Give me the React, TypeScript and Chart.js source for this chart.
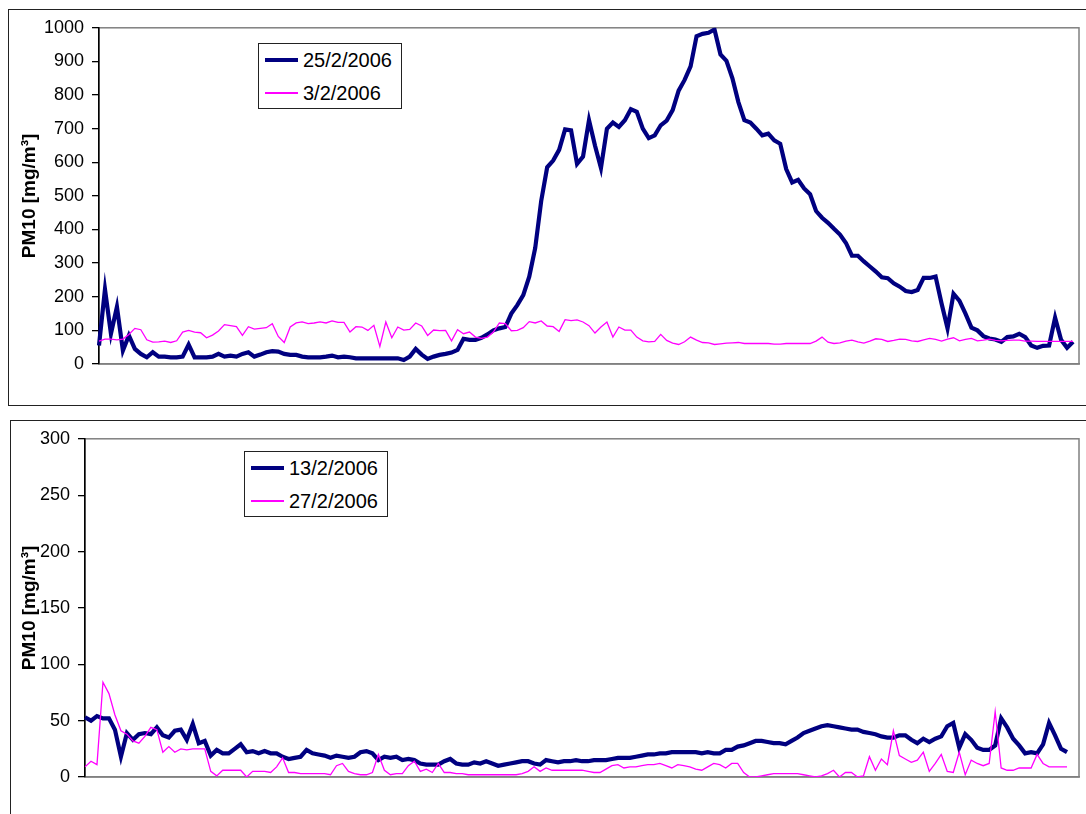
import React, { useEffect, useRef } from "react";
import { Chart, registerables } from "chart.js";

Chart.register(...registerables);

const FONT = "'Liberation Sans', Arial, sans-serif";
const NAVY = "#000080";
const PINK = "#FF00FF";

// Upper chart
const topDates = ["25/2/2006", "3/2/2006"];
const topTicks = [0, 100, 200, 300, 400, 500, 600, 700, 800, 900, 1000];
const feb25 = [
  55, 222, 90, 170, 40, 85, 45, 30, 20, 35,
  22, 22, 20, 20, 22, 58, 20, 20, 20, 22,
  30, 22, 25, 22, 30, 35, 22, 28, 35, 38,
  37, 30, 27, 27, 22, 20, 20, 20, 22, 25,
  20, 22, 20, 17, 17, 17, 17, 17, 17, 17,
  17, 12, 22, 45, 28, 15, 22, 27, 30, 34,
  42, 75, 72, 72, 78, 88, 100, 106, 110, 150,
  175, 205, 260, 345, 485, 585, 605, 637, 698, 695,
  595, 617, 725, 650, 583, 700, 718, 705, 725, 758,
  750, 700, 672, 680, 710, 724, 755, 813, 845, 885,
  975, 982, 985, 995, 921, 902, 850, 779, 725, 718,
  700, 680, 685, 665, 655, 580, 540, 548, 522, 505,
  455, 435, 420, 402, 385, 360, 322, 322, 305, 290,
  275, 258, 255, 240, 230, 217, 214, 220, 256, 256,
  260, 180, 106, 209, 188, 150, 108, 100, 83, 76,
  73, 66, 80, 82, 90, 80, 55, 48, 54, 55,
  138, 72, 48, 66,
];
const feb3 = [
  68, 74, 74, 72, 74, 88, 106, 102, 72, 65,
  66, 68, 64, 69, 95, 100, 95, 93, 78, 86,
  98, 117, 114, 111, 85, 111, 104, 106, 108, 120,
  82, 64, 110, 122, 125, 120, 122, 125, 122, 128,
  124, 124, 95, 111, 110, 100, 115, 52, 125, 78,
  110, 101, 103, 122, 113, 85, 101, 99, 100, 69,
  102, 90, 95, 80, 76, 80, 95, 122, 120, 99,
  100, 108, 126, 122, 128, 113, 111, 97, 132, 129,
  131, 125, 114, 92, 110, 125, 80, 110, 101, 101,
  80, 69, 66, 67, 88, 70, 62, 58, 66, 80,
  71, 64, 63, 58, 60, 62, 63, 64, 61, 61,
  61, 61, 61, 59, 59, 61, 61, 61, 61, 61,
  68, 80, 65, 61, 63, 68, 71, 66, 62, 68,
  75, 73, 67, 70, 74, 73, 69, 67, 72, 76,
  73, 68, 74, 78, 69, 73, 76, 69, 71, 74,
  70, 69, 70, 71, 71, 68, 68, 67, 67, 67,
  67, 67, 67, 67,
];

// Lower chart
const bottomDates = ["13/2/2006", "27/2/2006"];
const bottomTicks = [0, 50, 100, 150, 200, 250, 300];
const feb13 = [
  53, 50, 54, 52, 52, 42, 18, 39, 33, 38,
  39, 38, 44, 37, 35, 41, 42, 33, 47, 30,
  32, 19, 24, 21, 21, 25, 29, 22, 23, 21,
  23, 21, 21, 18, 16, 17, 18, 24, 21, 20,
  19, 17, 19, 18, 17, 18, 22, 23, 21, 15,
  18, 17, 18, 15, 16, 15, 12, 11, 11, 11,
  14, 16, 12, 11, 11, 13, 12, 14, 12, 10,
  11, 12, 13, 14, 14, 12, 11, 15, 14, 13,
  14, 14, 15, 14, 14, 15, 15, 15, 16, 17,
  17, 17, 18, 19, 20, 20, 21, 21, 22, 22,
  22, 22, 22, 21, 22, 21, 21, 24, 24, 27,
  28, 30, 32, 32, 31, 30, 30, 29, 32, 35,
  39, 41, 43, 45, 46, 45, 44, 43, 42, 42,
  40, 39, 38, 36, 35, 35, 37, 37, 33, 30,
  34, 31, 34, 36, 45, 48, 26, 38, 33, 26,
  24, 24, 28, 52, 44, 34, 28, 21, 22, 21,
  29, 48, 37, 25, 22,
];
const feb27 = [
  9, 14, 11, 84, 74, 55, 41, 38, 32, 30,
  36, 44, 42, 22, 27, 22, 25, 24, 25, 25,
  25, 5, 1, 6, 6, 6, 6, 0, 5, 5,
  5, 4, 9, 17, 4, 4, 3, 3, 3, 3,
  3, 2, 10, 12, 5, 3, 2, 2, 4, 20,
  6, 2, 3, 3, 10, 14, 5, 7, 4, 12,
  4, 4, 3, 3, 2, 2, 2, 2, 2, 2,
  2, 2, 2, 3, 5, 9, 5, 8, 6, 6,
  6, 6, 6, 6, 5, 4, 4, 7, 10, 11,
  8, 9, 9, 10, 11, 11, 12, 10, 8, 11,
  10, 9, 7, 6, 9, 12, 11, 8, 12, 12,
  4, 0, 0, 1, 2, 3, 3, 3, 3, 3,
  2, 1, 0, 1, 3, 6, 0, 4, 4, 0,
  1, 18, 6, 16, 11, 41, 19, 16, 13, 15,
  22, 5, 12, 20, 5, 4, 22, 2, 15, 12,
  10, 12, 58, 8, 6, 6, 8, 8, 8, 20,
  12, 9, 9, 9, 9,
];

// grey box round the plot area, drawn before the axes so the black y axis stays on top
const plotFrame = {
  id: "plotFrame",
  beforeDraw(chart: any) {
    const { ctx, chartArea: a } = chart;
    ctx.save();
    ctx.strokeStyle = "#808080";
    ctx.lineWidth = 1.5;
    ctx.strokeRect(a.left, a.top, a.right - a.left, a.bottom - a.top);
    ctx.restore();
  },
};

interface PmChartProps {
  names: string[];
  navy: number[];
  pink: number[];
  ticks: number[];
  slots: number;
  axisWidth: number;
  padding: { left: number; top: number; right: number; bottom: number };
}

const PmChart: React.FC<PmChartProps> = ({ names, navy, pink, ticks, slots, axisWidth, padding }) => {
  const canvasRef = useRef<HTMLCanvasElement>(null);

  useEffect(() => {
    if (!canvasRef.current) return;
    const labels = Array.from({ length: slots }, (_, i) => String(i));
    const chart = new Chart(canvasRef.current, {
      type: "line",
      data: {
        labels,
        datasets: [
          { label: names[0], data: navy, borderColor: NAVY, borderWidth: 4.2, order: 1 },
          { label: names[1], data: pink, borderColor: PINK, borderWidth: 1.3, order: 0 },
        ],
      },
      options: {
        animation: false,
        responsive: true,
        maintainAspectRatio: false,
        layout: { padding },
        elements: { point: { radius: 0 }, line: { tension: 0 } },
        plugins: { legend: { display: false }, tooltip: { enabled: false } },
        scales: {
          x: {
            grid: { display: false },
            ticks: { display: false },
            border: { color: "#808080", width: 1.5 },
            afterFit: (s: any) => {
              s.height = 0;
            },
          },
          y: {
            min: ticks[0],
            max: ticks[ticks.length - 1],
            ticks: {
              stepSize: ticks[1] - ticks[0],
              color: "#000",
              font: { family: FONT, size: 18 },
              padding: 8,
              callback: (v: any) => String(v),
            },
            grid: { drawOnChartArea: false, color: "#000", tickLength: 7, lineWidth: 1.3 },
            border: { color: "#000", width: 1.5 },
            title: {
              display: true,
              text: "PM10 [mg/m³]",
              color: "#000",
              font: { family: FONT, size: 19, weight: "bold" },
              padding: { top: 0, bottom: 0 },
            },
            afterFit: (s: any) => {
              s.width = axisWidth;
            },
          },
        },
      },
      plugins: [plotFrame],
    });
    return () => chart.destroy();
  }, [names, navy, pink, ticks, slots, axisWidth, padding]);

  return <canvas ref={canvasRef} />;
};

const Legend: React.FC<{ names: string[]; left: number; top: number }> = ({ names, left, top }) => (
  <div
    style={{
      position: "absolute",
      left,
      top,
      width: 144,
      height: 66,
      border: "1px solid #222",
      boxSizing: "border-box",
      background: "#fff",
    }}
  >
    {names.map((n, i) => (
      <div
        key={n}
        style={{ position: "absolute", left: 6, top: i * 33, height: 32, display: "flex", alignItems: "center" }}
      >
        <span
          style={{
            display: "inline-block",
            width: 33,
            height: i === 0 ? 4 : 1.5,
            background: i === 0 ? NAVY : PINK,
            marginRight: 5,
          }}
        />
        <span style={{ font: `20px ${FONT}`, color: "#000", whiteSpace: "nowrap" }}>{n}</span>
      </div>
    ))}
  </div>
);

const frameStyle = (left: number, top: number, height: number): React.CSSProperties => ({
  position: "absolute",
  left,
  top,
  width: 1100,
  height,
  border: "1.5px solid #222",
  boxSizing: "border-box",
});

export default function App() {
  return (
    <div
      style={{
        position: "fixed",
        left: 0,
        top: 0,
        width: 1086,
        height: 814,
        overflow: "hidden",
        background: "#fff",
      }}
    >
      <div style={frameStyle(8, 9, 397)} />
      <div style={frameStyle(10, 420, 420)} />
      <div style={{ position: "absolute", left: 8, top: 9, width: 1078, height: 396 }}>
        <PmChart
          names={topDates}
          navy={feb25}
          pink={feb3}
          ticks={topTicks}
          slots={feb25.length + 1}
          axisWidth={81}
          padding={{ left: 10, top: 16, right: 7, bottom: 41 }}
        />
      </div>
      <div style={{ position: "absolute", left: 10, top: 420, width: 1076, height: 394 }}>
        <PmChart
          names={bottomDates}
          navy={feb13}
          pink={feb27}
          ticks={bottomTicks}
          slots={feb13.length + 2}
          axisWidth={67}
          padding={{ left: 8, top: 15, right: 7, bottom: 37 }}
        />
      </div>
      <Legend names={topDates} left={258} top={43} />
      <Legend names={bottomDates} left={244} top={451} />
    </div>
  );
}
